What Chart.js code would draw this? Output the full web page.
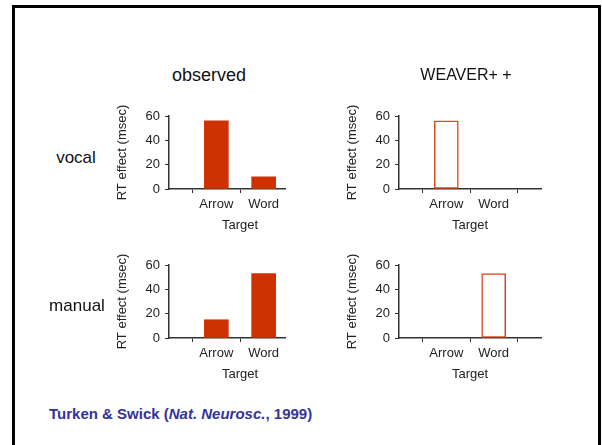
<!DOCTYPE html>
<html>
<head>
<meta charset="utf-8">
<script src="https://cdn.jsdelivr.net/npm/chart.js@4.4.1/dist/chart.umd.min.js"></script>
<style>
    body { margin: 0; background: #fff; width: 602px; height: 445px; overflow: hidden; position: relative; font-family: "Liberation Sans", Arial, sans-serif; }
    .frame { position: absolute; left: 12px; top: 5px; width: 583px; height: 460px; border: 3px solid #000; border-bottom: none; }
    .label { position: absolute; transform: translate(-50%, -50%); font-size: 17px; color: #111; white-space: nowrap; z-index: 2; }
    .cite { position: absolute; left: 49px; top: 405px; font-size: 15px; font-weight: bold; color: #333399; }
    canvas { position: absolute; background: #fff; }
</style>
</head>
<body>
<div class="frame"></div>

<div class="label" style="left:209px; top:75px; font-size:18px;">observed</div>
<div class="label" style="left:466px; top:75px; font-size:16px;">WEAVER+ +</div>
<div class="label" style="left:76px; top:158px;">vocal</div>
<div class="label" style="left:77px; top:306px;">manual</div>

<canvas id="obsVocal" width="221" height="139" style="left:100px; top:100px;"></canvas>
<canvas id="modelVocal" width="265" height="139" style="left:286px; top:100px;"></canvas>
<canvas id="obsManual" width="221" height="139" style="left:100px; top:249px;"></canvas>
<canvas id="modelManual" width="265" height="139" style="left:286px; top:249px;"></canvas>

<div class="cite">Turken &amp; Swick (<i>Nat. Neurosc.</i>, 1999)</div>

<script>
// Data
const categories = ['Arrow', 'Word'];
const yTicks = [0, 20, 40, 60];
const observedVocal = [56, 10];
const weaverVocal = [56, null];
const observedManual = [15, 53];
const weaverManual = [null, 53];

const barRed = '#cc3300';
const outlineRed = '#d9491f';
const axisColor = '#333333';

Chart.defaults.font.family = '"Liberation Sans", Arial, sans-serif';
Chart.defaults.font.size = 13;
Chart.defaults.color = '#222222';

// Builds one small bar panel; the model panels are outlined instead of filled
function makeChart(id, values, filled, padLeft) {
    const ctx = document.getElementById(id).getContext('2d');
    return new Chart(ctx, {
        type: 'bar',
        data: {
            datasets: [{
                data: values.map((v, i) => ({ x: i + 1, y: v })),
                backgroundColor: filled ? barRed : '#ffffff',
                borderColor: filled ? barRed : outlineRed,
                borderWidth: filled ? 0 : 1.5,
                borderSkipped: false,
                barThickness: 24
            }]
        },
        options: {
            responsive: false,
            animation: false,
            layout: { padding: { left: padLeft, right: 10, top: 16, bottom: 0 } },
            plugins: { legend: { display: false }, tooltip: { enabled: false } },
            scales: {
                x: {
                    type: 'linear',
                    min: 0,
                    max: categories.length + 1,
                    offset: false,
                    afterBuildTicks: axis => {
                        axis.ticks = categories.map((c, i) => ({ value: i + 1 }));
                    },
                    afterFit: scale => { scale.height = 50; },
                    ticks: {
                        autoSkip: false,
                        maxRotation: 0,
                        padding: 4,
                        callback: value => categories[value - 1]
                    },
                    grid: { drawOnChartArea: false, tickLength: 4, color: axisColor, lineWidth: 1 },
                    border: { color: axisColor, width: 1.5 },
                    title: { display: true, text: 'Target', padding: { top: 0, bottom: 6 } }
                },
                y: {
                    min: 0,
                    max: 60,
                    afterBuildTicks: axis => {
                        axis.ticks = yTicks.map(v => ({ value: v }));
                    },
                    afterFit: scale => { scale.width = 58; },
                    ticks: { padding: 5 },
                    grid: { drawOnChartArea: false, tickLength: 4, color: axisColor, lineWidth: 1 },
                    border: { color: axisColor, width: 1.5 },
                    title: { display: true, text: 'RT effect (msec)', padding: { top: 4, bottom: 0 } }
                }
            }
        }
    });
}

makeChart('obsVocal', observedVocal, true, 11);
makeChart('modelVocal', weaverVocal, false, 55);
makeChart('obsManual', observedManual, true, 11);
makeChart('modelManual', weaverManual, false, 55);
</script>
</body>
</html>
